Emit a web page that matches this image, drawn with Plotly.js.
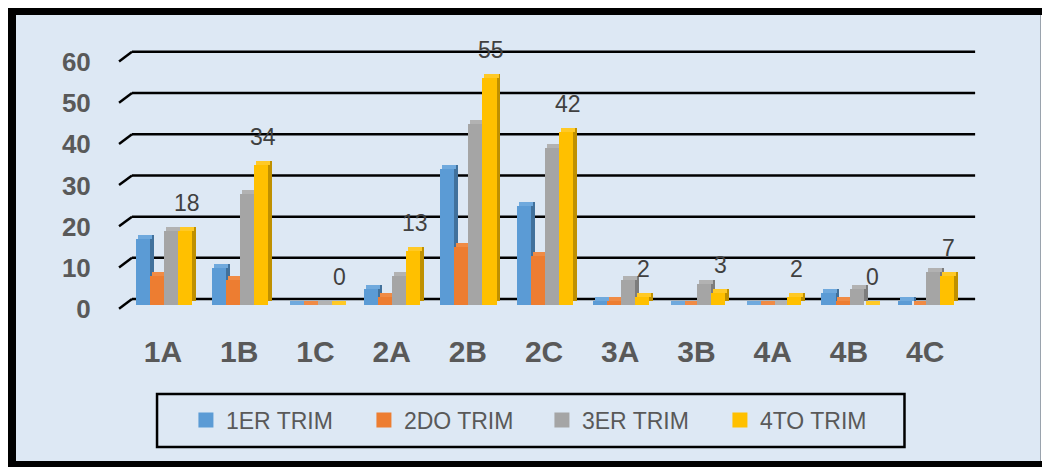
<!DOCTYPE html>
<html>
<head>
<meta charset="utf-8">
<script src="https://cdn.plot.ly/plotly-3.0.1.min.js"></script>
<style>
  html, body { margin: 0; padding: 0; background: #ffffff; }
  #wrap { position: relative; width: 1042px; height: 467px; overflow: hidden; }
  #chart { position: absolute; left: 0; top: 0; width: 1042px; height: 467px; }
  .frame { position: absolute; pointer-events: none; }
</style>
</head>
<body>
<div id="wrap">
  <div id="chart"></div>
  <div class="frame" style="left:0;top:0;width:1042px;height:8px;background:#fff;"></div>
  <div class="frame" style="left:0;top:0;width:8px;height:467px;background:#fff;"></div>
  <div class="frame" style="left:8px;top:8px;width:1034px;height:7px;background:#000;"></div>
  <div class="frame" style="left:8px;top:8px;width:8px;height:459px;background:#000;"></div>
  <div class="frame" style="left:8px;top:461px;width:1034px;height:6px;background:#000;"></div>
  <div class="frame" style="left:1040px;top:15px;width:1px;height:446px;background:#9aa3ad;"></div>
  <div class="frame" style="left:1041px;top:15px;width:1px;height:446px;background:#fff;"></div>
</div>
<script>
// ---- data ----
const categories = ['1A', '1B', '1C', '2A', '2B', '2C', '3A', '3B', '4A', '4B', '4C'];
const trim1 = [16, 9, 0, 4, 33, 24, 1, 0, 0, 3, 1];
const trim2 = [7, 6, 0, 2, 14, 12, 1, 0, 0, 1, 0];
const trim3 = [18, 27, 0, 7, 44, 38, 6, 5, 0, 4, 8];
const trim4 = [18, 34, 0, 13, 55, 42, 2, 3, 2, 0, 7];
const seriesNames = ['1ER TRIM', '2DO TRIM', '3ER TRIM', '4TO TRIM'];
const yTicks = [0, 10, 20, 30, 40, 50, 60];

// ---- styling ----
const series = [trim1, trim2, trim3, trim4];
const frontColors = ['#5B9BD5', '#ED7D31', '#A5A5A5', '#FFC000'];
const sideColors  = ['#41719C', '#AE5A21', '#7C7C7C', '#BF9000'];
const topColors   = ['#6FA9DD', '#F08B45', '#B2B2B2', '#FFC926'];
const xIdx = categories.map((c, i) => i);
const barW = 0.184;        // width of one bar (category units)
const groupStart = -0.36;  // left edge of first bar relative to category centre
const dx = 0.052;          // 3D depth, x (category units)
const dy = 0.97;           // 3D depth, y (value units)
const gridBack = 1.44;     // back wall offset of gridlines (value units)
const gridFront = -0.9;    // front end of the slanted grid stub
const xLeft = -0.63, xRight = 10.72;
const wallLeft = -0.407, wallRight = 10.656, stubLeft = -0.577;

const traces = [];
series.forEach((vals, s) => {
  const off = groupStart + s * barW;
  traces.push({
    type: 'bar', x: xIdx, y: vals, base: dy, offset: off + dx, width: barW,
    marker: { color: sideColors[s], line: { width: 0 } },
    showlegend: false, hoverinfo: 'skip'
  });
  traces.push({
    type: 'bar', x: xIdx, y: vals.map(() => dy), base: vals, offset: off + dx / 2, width: barW,
    marker: { color: topColors[s], line: { width: 0 } },
    showlegend: false, hoverinfo: 'skip'
  });
  traces.push({
    type: 'bar', x: xIdx, y: vals, offset: off, width: barW,
    marker: { color: frontColors[s], line: { width: 0 } },
    showlegend: false, hoverinfo: 'skip'
  });
});
seriesNames.forEach((name, s) => {
  traces.push({
    type: 'scatter', mode: 'markers', x: [null], y: [null], name: name,
    marker: { symbol: 'square', size: 15, color: frontColors[s], line: { width: 0 } },
    hoverinfo: 'skip'
  });
});

const shapes = [];
yTicks.forEach(t => {
  shapes.push({
    type: 'line', xref: 'x', yref: 'y', layer: 'below',
    x0: wallLeft, x1: wallRight, y0: t + gridBack, y1: t + gridBack,
    line: { color: '#000000', width: 2.5 }
  });
  shapes.push({
    type: 'line', xref: 'x', yref: 'y', layer: 'below',
    x0: stubLeft, x1: wallLeft, y0: t + gridFront, y1: t + gridBack,
    line: { color: '#000000', width: 2.5 }
  });
});
shapes.push({
  type: 'rect', xref: 'paper', yref: 'paper',
  x0: 0.0486, x1: 0.9127, y0: -0.5056, y1: -0.3071,
  line: { color: '#000000', width: 2.5 }, fillcolor: 'rgba(0,0,0,0)'
});

const labelOffset = groupStart + 3 * barW + barW / 2 + dx / 2;
const annotations = trim4.map((v, i) => ({
  xref: 'x', yref: 'y', x: i + labelOffset, y: v, yshift: 28,
  text: String(v), showarrow: false, xanchor: 'center', yanchor: 'middle',
  font: { family: 'Liberation Sans, Arial, sans-serif', size: 23, color: '#404040' }
}));

const layout = {
  width: 1042, height: 467,
  margin: { l: 115, r: 62, t: 45, b: 155, pad: 0 },
  paper_bgcolor: '#DDE8F4', plot_bgcolor: 'rgba(0,0,0,0)',
  barmode: 'overlay', bargap: 0,
  showlegend: true,
  legend: {
    orientation: 'h', x: 0.082, xanchor: 'left', y: -0.4045, yanchor: 'middle',
    bgcolor: 'rgba(0,0,0,0)', borderwidth: 0,
    entrywidth: 133, entrywidthmode: 'pixels',
    font: { family: 'Liberation Sans, Arial, sans-serif', size: 23, color: '#595959' }
  },
  xaxis: {
    type: 'linear', range: [xLeft, xRight], tickvals: xIdx, ticktext: categories,
    showgrid: false, zeroline: false, showline: false,
    ticks: 'outside', ticklen: 13, tickcolor: 'rgba(0,0,0,0)',
    tickfont: { family: 'Liberation Sans, Arial, sans-serif', size: 30, color: '#595959', weight: 'bold' },
    fixedrange: true
  },
  yaxis: {
    range: [-1.699, 63.107], tickvals: yTicks,
    showgrid: false, zeroline: false, showline: false,
    ticks: 'outside', ticklen: 18, tickcolor: 'rgba(0,0,0,0)',
    ticklabelshift: 4,
    tickfont: { family: 'Liberation Sans, Arial, sans-serif', size: 26, color: '#595959', weight: 'bold' },
    fixedrange: true
  },
  shapes: shapes,
  annotations: annotations
};

Plotly.newPlot('chart', traces, layout, { staticPlot: true, displayModeBar: false });
</script>
</body>
</html>
